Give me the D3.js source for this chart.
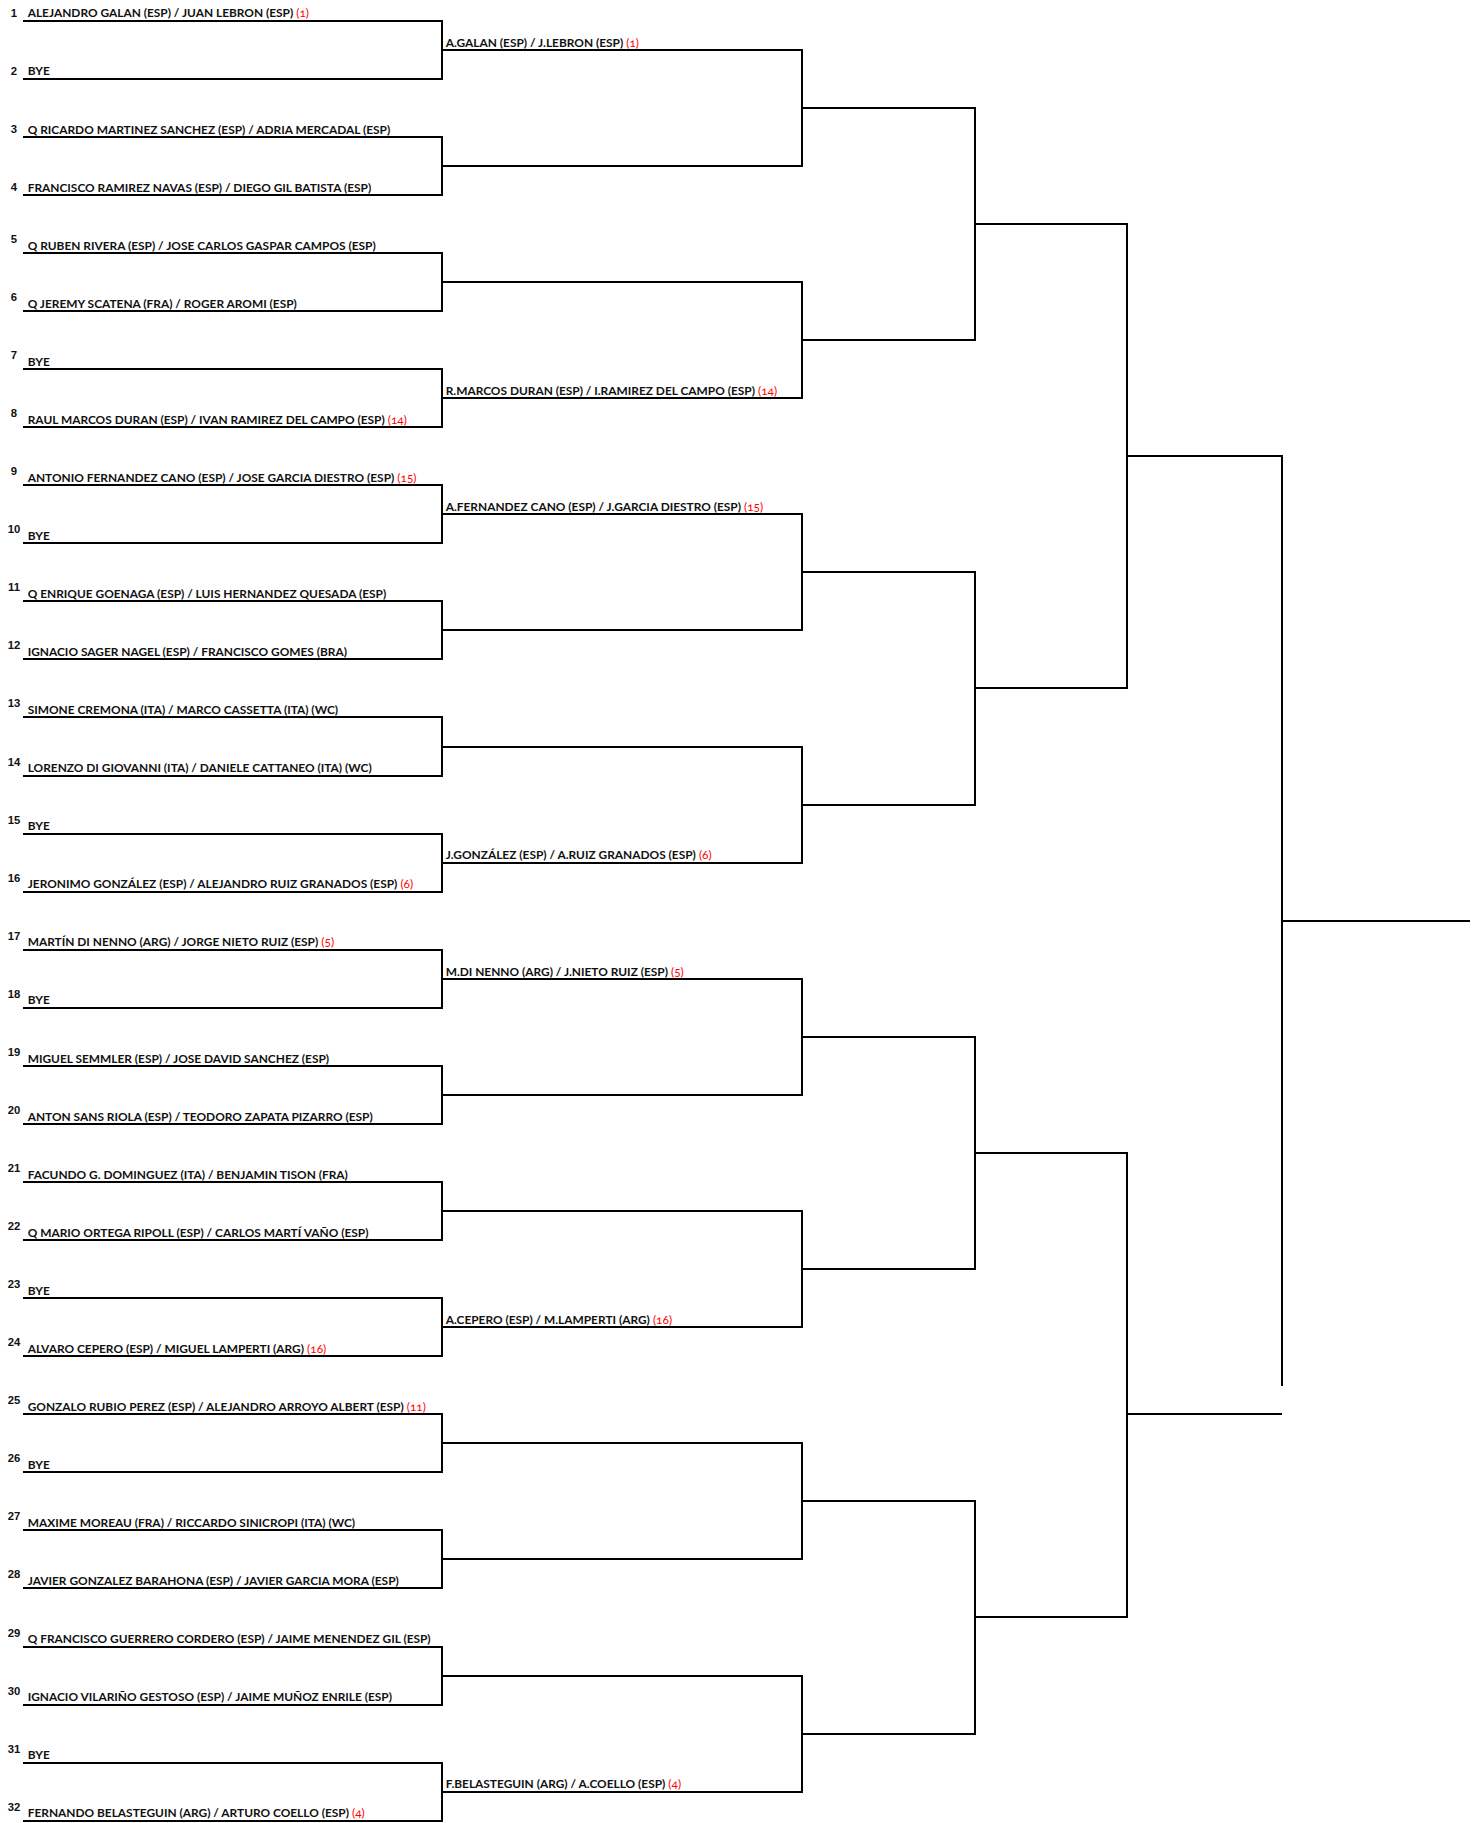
<!DOCTYPE html>
<html>
<head>
<meta charset="utf-8">
<script src="https://cdn.jsdelivr.net/npm/d3@7"></script>
<style>
  body { margin: 0; background: #fff; }
  .team { font-family: Lato, "Noto Sans", sans-serif; font-weight: 700; font-size: 11.9px; fill: #111; }
  .seed { font-weight: 400; fill: #ff0000; font-feature-settings: "onum"; }
  .num { font-family: "Liberation Sans", Arial, sans-serif; font-weight: 700; font-size: 11.3px; fill: #111; }
</style>
</head>
<body>
<svg width="1483" height="1823"></svg>
<script>
var teams = [
  "ALEJANDRO GALAN (ESP) / JUAN LEBRON (ESP)",
  "BYE",
  "Q RICARDO MARTINEZ SANCHEZ (ESP) / ADRIA MERCADAL (ESP)",
  "FRANCISCO RAMIREZ NAVAS (ESP) / DIEGO GIL BATISTA (ESP)",
  "Q RUBEN RIVERA (ESP) / JOSE CARLOS GASPAR CAMPOS (ESP)",
  "Q JEREMY SCATENA (FRA) / ROGER AROMI (ESP)",
  "BYE",
  "RAUL MARCOS DURAN (ESP) / IVAN RAMIREZ DEL CAMPO (ESP)",
  "ANTONIO FERNANDEZ CANO (ESP) / JOSE GARCIA DIESTRO (ESP)",
  "BYE",
  "Q ENRIQUE GOENAGA (ESP) / LUIS HERNANDEZ QUESADA (ESP)",
  "IGNACIO SAGER NAGEL (ESP) / FRANCISCO GOMES (BRA)",
  "SIMONE CREMONA (ITA) / MARCO CASSETTA (ITA) (WC)",
  "LORENZO DI GIOVANNI (ITA) / DANIELE CATTANEO (ITA) (WC)",
  "BYE",
  "JERONIMO GONZÁLEZ (ESP) / ALEJANDRO RUIZ GRANADOS (ESP)",
  "MARTÍN DI NENNO (ARG) / JORGE NIETO RUIZ (ESP)",
  "BYE",
  "MIGUEL SEMMLER (ESP) / JOSE DAVID SANCHEZ (ESP)",
  "ANTON SANS RIOLA (ESP) / TEODORO ZAPATA PIZARRO (ESP)",
  "FACUNDO G. DOMINGUEZ (ITA) / BENJAMIN TISON (FRA)",
  "Q MARIO ORTEGA RIPOLL (ESP) / CARLOS MARTÍ VAÑO (ESP)",
  "BYE",
  "ALVARO CEPERO (ESP) / MIGUEL LAMPERTI (ARG)",
  "GONZALO RUBIO PEREZ (ESP) / ALEJANDRO ARROYO ALBERT (ESP)",
  "BYE",
  "MAXIME MOREAU (FRA) / RICCARDO SINICROPI (ITA) (WC)",
  "JAVIER GONZALEZ BARAHONA (ESP) / JAVIER GARCIA MORA (ESP)",
  "Q FRANCISCO GUERRERO CORDERO (ESP) / JAIME MENENDEZ GIL (ESP)",
  "IGNACIO VILARIÑO GESTOSO (ESP) / JAIME MUÑOZ ENRILE (ESP)",
  "BYE",
  "FERNANDO BELASTEGUIN (ARG) / ARTURO COELLO (ESP)"
];
var seeds = [
  "1", "", "", "", "", "", "", "14",
  "15", "", "", "", "", "", "", "6",
  "5", "", "", "", "", "", "", "16",
  "11", "", "", "", "", "", "", "4"
];
var secondRound = [
  "A.GALAN (ESP) / J.LEBRON (ESP)", "", "", "R.MARCOS DURAN (ESP) / I.RAMIREZ DEL CAMPO (ESP)",
  "A.FERNANDEZ CANO (ESP) / J.GARCIA DIESTRO (ESP)", "", "", "J.GONZÁLEZ (ESP) / A.RUIZ GRANADOS (ESP)",
  "M.DI NENNO (ARG) / J.NIETO RUIZ (ESP)", "", "", "A.CEPERO (ESP) / M.LAMPERTI (ARG)",
  "", "", "", "F.BELASTEGUIN (ARG) / A.COELLO (ESP)"
];
var secondSeeds = [
  "1", "", "", "14",
  "15", "", "", "6",
  "5", "", "", "16",
  "", "", "", "4"
];
var rounds = ["R32", "R16", "QF", "SF", "F", "W", "end"];

function main() {
  var svg = d3.select("svg");

  var y = d3.scaleLinear().domain([0, teams.length - 1]).range([20.7, 1820.7]);
  var x = d3.scaleOrdinal().domain(rounds).range([23, 442, 802, 975, 1127, 1282, 1470]);

  // slot centres for every round, in slot units
  var levels = [d3.range(teams.length)];
  while (levels[levels.length - 1].length > 1) {
    var prev = levels[levels.length - 1];
    levels.push(d3.range(prev.length / 2).map(function(j) { return (prev[2 * j] + prev[2 * j + 1]) / 2; }));
  }
  // the sheet draws the lower semi-final line half a slot low
  var lowerSemiNudge = 0.5;

  var g = svg.append("g")
    .attr("fill", "none")
    .attr("stroke", "#000")
    .attr("stroke-width", 2)
    .attr("shape-rendering", "crispEdges");

  levels.forEach(function(pos, k) {
    var x0 = x(rounds[k]), x1 = x(rounds[k + 1]);
    g.selectAll(".h" + k)
      .data(pos)
      .enter().append("line")
      .attr("class", "h" + k)
      .attr("x1", x0)
      .attr("x2", x1)
      .attr("y1", function(d, i) { return y(k == 4 && i == 1 ? d + lowerSemiNudge : d); })
      .attr("y2", function(d, i) { return y(k == 4 && i == 1 ? d + lowerSemiNudge : d); });

    if (pos.length > 1) {
      var pairs = d3.range(pos.length / 2).map(function(j) { return [pos[2 * j], pos[2 * j + 1]]; });
      g.selectAll(".v" + k)
        .data(pairs)
        .enter().append("line")
        .attr("class", "v" + k)
        .attr("x1", x1)
        .attr("x2", x1)
        .attr("y1", function(d) { return y(d[0]) - 1; })
        .attr("y2", function(d) { return y(d[1]) + 1; });
    }
  });

  // seed numbers
  svg.selectAll(".num")
    .data(teams)
    .enter().append("text")
    .attr("class", "num")
    .attr("x", 14)
    .attr("y", function(d, i) { return y(i) - (i < 4 ? 3.4 : 10); })
    .attr("text-anchor", "middle")
    .text(function(d, i) { return i + 1; });

  // first-round names
  var t1 = svg.selectAll(".r1")
    .data(teams)
    .enter().append("text")
    .attr("class", "team r1")
    .attr("x", x("R32") + 4.7)
    .attr("y", function(d, i) { return y(i) - 3.3; });
  t1.append("tspan").text(function(d) { return d; });
  t1.append("tspan")
    .attr("class", "seed")
    .text(function(d, i) { return seeds[i] ? " (" + seeds[i] + ")" : ""; });

  // second-round names
  var t2 = svg.selectAll(".r2")
    .data(secondRound)
    .enter().append("text")
    .attr("class", "team r2")
    .attr("x", x("R16") + 3.7)
    .attr("y", function(d, i) { return y(levels[1][i]) - 3.2; });
  t2.append("tspan").text(function(d) { return d; });
  t2.append("tspan")
    .attr("class", "seed")
    .text(function(d, i) { return secondSeeds[i] ? " (" + secondSeeds[i] + ")" : ""; });
}
main();
</script>
</body>
</html>
